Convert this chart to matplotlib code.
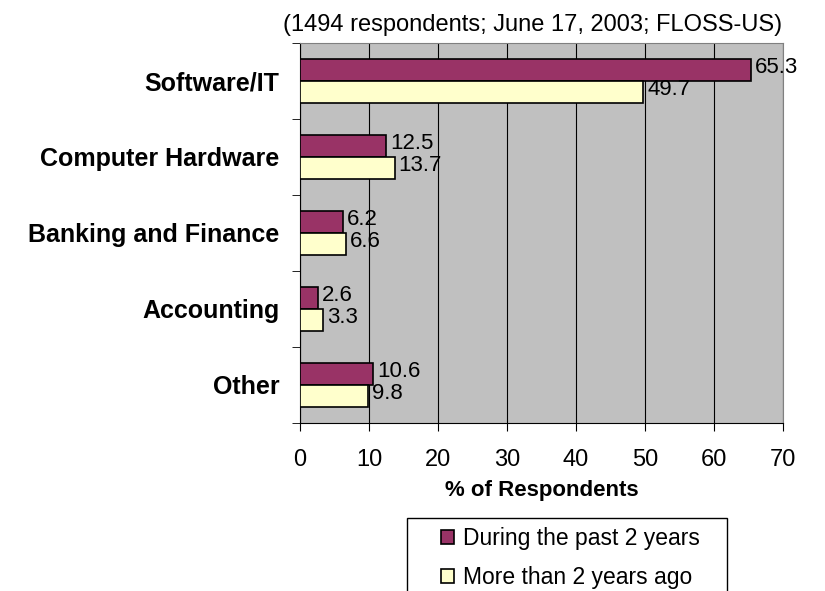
import matplotlib.pyplot as plt
from matplotlib.patches import Rectangle
import numpy as np

plt.rcParams['font.family'] = ['Liberation Sans', 'DejaVu Sans']

categories = ["Software/IT", "Computer Hardware", "Banking and Finance", "Accounting", "Other"]
recent = [65.3, 12.5, 6.2, 2.6, 10.6]
older = [49.7, 13.7, 6.6, 3.3, 9.8]
series_names = ["During the past 2 years", "More than 2 years ago"]
xticks = [0, 10, 20, 30, 40, 50, 60, 70]

fig = plt.figure(figsize=(8.25, 5.91), dpi=100)
ax = fig.add_axes([0.3636, 0.2843, 0.5855, 0.643])
ax.set_facecolor("#C0C0C0")

y = np.arange(len(categories))
h = 0.29
b1 = ax.barh(y - h / 2, recent, height=h, color="#993366", edgecolor="black", linewidth=1.2, zorder=3)
b2 = ax.barh(y + h / 2, older, height=h, color="#FFFFCC", edgecolor="black", linewidth=1.2, zorder=3)

for bars in (b1, b2):
    for r in bars:
        ax.annotate("%.1f" % r.get_width(), (r.get_width(), r.get_y() + r.get_height() / 2),
                    xytext=(3, 1.5), textcoords="offset points", ha="left", va="center", fontsize=16)

ax.set_xlim(0, 70)
ax.set_ylim(len(categories) - 0.5, -0.5)
ax.set_xticks(xticks)
ax.xaxis.grid(True, color="black", linewidth=0.8, zorder=0)
ax.set_axisbelow(True)

ax.set_yticks(y)
ax.set_yticklabels(categories, fontsize=18, fontweight="bold")
ax.tick_params(axis="y", length=0, pad=15)
ax.set_yticks(np.arange(len(categories) + 1) - 0.5, minor=True)
ax.tick_params(axis="y", which="minor", length=6, direction="out")
ax.tick_params(axis="x", length=6, direction="out", labelsize=17, pad=13)

for s in ("top", "right"):
    ax.spines[s].set_color("#808080")
ax.spines["left"].set_color("black")
ax.spines["bottom"].set_color("black")

ax.set_xlabel("% of Respondents", fontsize=16, fontweight="bold", labelpad=6)
fig.text(0.646, 0.957, "(1494 respondents; June 17, 2003; FLOSS-US)", ha="center", va="center", fontsize=17)

# legend box (cut off at the bottom like the original)
fig.patches.append(Rectangle((0.4933, -0.05), 0.3879, 0.1735, transform=fig.transFigure,
                             facecolor="white", edgecolor="black", linewidth=1.0))
leg = fig.legend([b1, b2], series_names, loc="upper left", bbox_to_anchor=(0.5345, 0.108),
                 fontsize=16.5, frameon=False, borderpad=0, borderaxespad=0,
                 handlelength=0.57, handleheight=0.57, handletextpad=0.4, labelspacing=0.68)

fig.savefig("out.png", dpi=100)
